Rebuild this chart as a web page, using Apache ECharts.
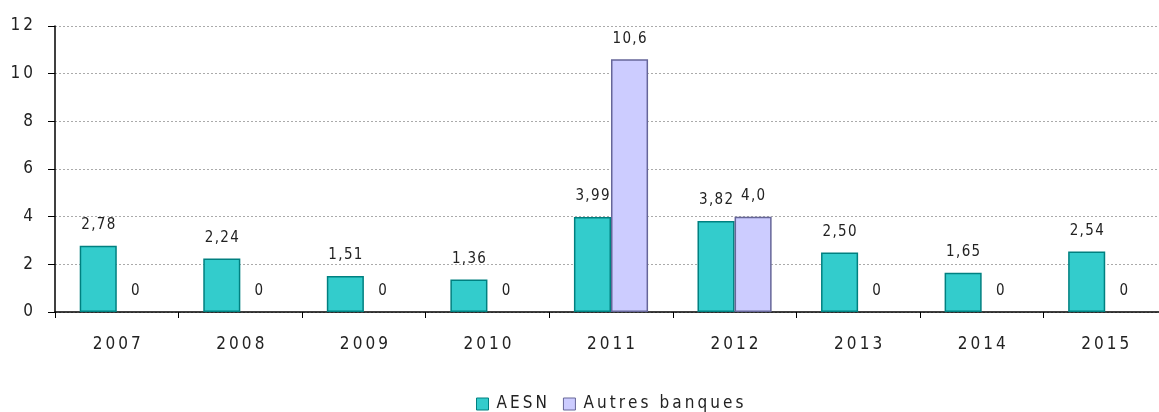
<!DOCTYPE html>
<html>
<head>
<meta charset="utf-8">
<script src="https://cdn.jsdelivr.net/npm/echarts@6/dist/echarts.min.js"></script>
<style>
  html, body { margin: 0; padding: 0; background: #fff; }
  #chart { width: 1159px; height: 412px; }
</style>
</head>
<body>
<div id="chart"></div>
<script>
// 年份
var years = ['2007', '2008', '2009', '2010', '2011', '2012', '2013', '2014', '2015'];
// AESN
var aesn = [2.78, 2.24, 1.51, 1.36, 3.99, 3.82, 2.50, 1.65, 2.54];
// Autres banques
var autres = [0, 0, 0, 0, 10.6, 4.0, 0, 0, 0];
var seriesNames = ['AESN', 'Autres banques'];

var FONT = "'Liberation Sans Narrow', 'DejaVu Sans Condensed', sans-serif";

// 字母间隔
function spaced(s, gap) {
    return String(s).split('').join(gap);
}

// 0 值不画边框
function toItems(arr) {
    return arr.map(function (v) {
        return v === 0 ? { value: v, itemStyle: { borderWidth: 0 } } : v;
    });
}

var chart = echarts.init(document.getElementById('chart'));

chart.setOption({
    animation: false,
    backgroundColor: '#fff',
    textStyle: { fontFamily: FONT },
    grid: { left: 55, width: 1112, top: 26, bottom: 100, outerBoundsMode: 'none', containLabel: false },
    legend: {
        left: 471,
        top: 389,
        padding: 5,
        itemWidth: 12,
        itemHeight: 12,
        itemGap: 16,
        icon: 'rect',
        formatter: function (name) { return spaced(name, '\u2009'); },
        textStyle: { fontFamily: FONT, fontSize: 17, lineHeight: 20, color: '#222', padding: [0, 0, 0, 3] },
        data: [
            { name: seriesNames[0], itemStyle: { color: '#33CCCC', borderColor: '#008080', borderWidth: 1 } },
            { name: seriesNames[1], itemStyle: { color: '#CCCCFF', borderColor: '#666699', borderWidth: 1 } }
        ]
    },
    xAxis: {
        type: 'category',
        data: years,
        axisLine: { lineStyle: { color: '#000', width: 1.5 } },
        axisTick: { show: true, length: 6, lineStyle: { color: '#000' } },
        axisLabel: {
            margin: 24,
            fontFamily: FONT,
            fontSize: 17,
            color: '#222',
            formatter: function (v) { return spaced(v, '\u2009'); }
        }
    },
    yAxis: {
        type: 'value',
        min: 0,
        max: 12,
        interval: 2,
        axisLine: { show: true, lineStyle: { color: '#000', width: 1.5 } },
        axisTick: { show: true, length: 7, lineStyle: { color: '#000' } },
        axisLabel: {
            margin: 22,
            fontFamily: FONT,
            fontSize: 17,
            color: '#222',
            formatter: function (v) { return spaced(v, '\u2009'); }
        },
        splitLine: { show: true, lineStyle: { color: '#aaa', type: [2, 2], width: 1 } }
    },
    series: [
        {
            name: seriesNames[0],
            type: 'bar',
            data: toItems(aesn),
            barGap: '0%',
            barCategoryGap: '40%',
            itemStyle: { color: '#33CCCC', borderColor: '#008080', borderWidth: 1.5 },
            label: {
                show: true,
                position: 'top',
                distance: 13,
                fontFamily: FONT,
                fontSize: 15,
                color: '#222',
                formatter: function (p) { return spaced(p.value.toFixed(2).replace('.', ','), '\u200A'); }
            }
        },
        {
            name: seriesNames[1],
            type: 'bar',
            data: toItems(autres),
            itemStyle: { color: '#CCCCFF', borderColor: '#666699', borderWidth: 1.5 },
            label: {
                show: true,
                position: 'top',
                distance: 13,
                fontFamily: FONT,
                fontSize: 15,
                color: '#222',
                formatter: function (p) {
                    var t = p.value === 0 ? '0' : p.value.toFixed(1).replace('.', ',');
                    return spaced(t, '\u200A');
                }
            }
        }
    ]
});
</script>
</body>
</html>
